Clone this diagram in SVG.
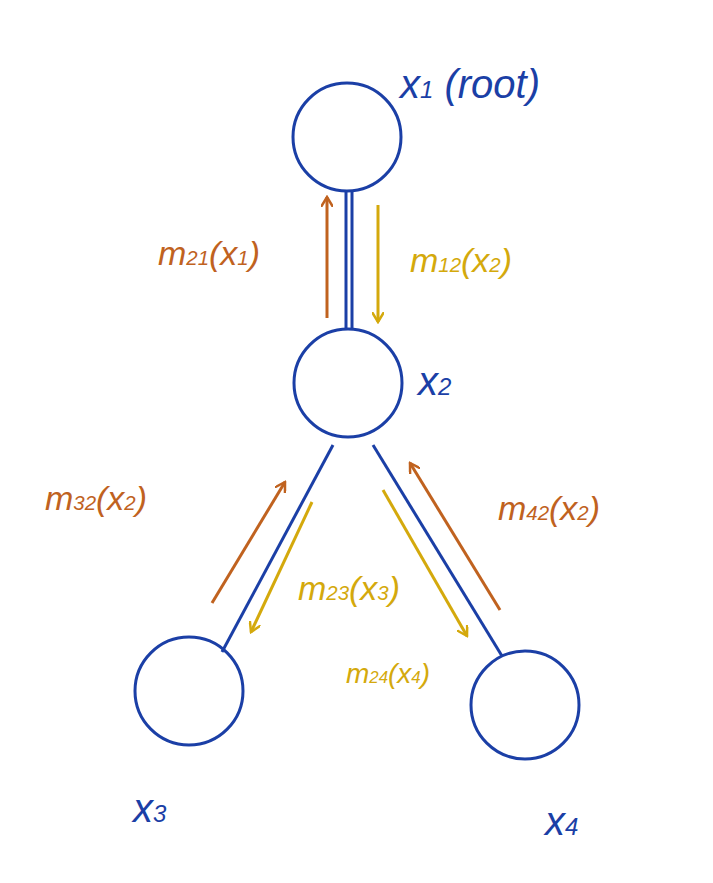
<svg xmlns="http://www.w3.org/2000/svg" width="713" height="883" viewBox="0 0 713 883">
<style>
.n{fill:none;stroke:#1b3fa6;stroke-width:3}
.e{stroke:#1b3fa6;stroke-width:3;fill:none}
.o{stroke:#c0621f;stroke-width:3;fill:none}
.y{stroke:#d4a90c;stroke-width:3;fill:none}
text{font-family:"Liberation Sans",sans-serif;font-style:italic}
.tb{fill:#1b3fa6;font-size:40px}
.to{fill:#c0621f;font-size:34px}
.ty{fill:#d4a90c;font-size:34px}
.s{font-size:0.6em}
</style>
<defs>
<marker id="ao" viewBox="0 0 12 12" refX="10" refY="6" markerWidth="12" markerHeight="12" markerUnits="userSpaceOnUse" orient="auto"><path d="M0,0 L10,6 L0,12" fill="none" stroke="#c0621f" stroke-width="2.5"/></marker>
<marker id="ay" viewBox="0 0 12 12" refX="10" refY="6" markerWidth="12" markerHeight="12" markerUnits="userSpaceOnUse" orient="auto"><path d="M0,0 L10,6 L0,12" fill="none" stroke="#d4a90c" stroke-width="2.5"/></marker>
</defs>
<g id="connectors">
<line class="e" x1="346" y1="191" x2="346" y2="330"/>
<line class="e" x1="352" y1="191" x2="352" y2="330"/>
<line class="e" x1="333" y1="445" x2="222" y2="652"/>
<line class="e" x1="373" y1="445" x2="502" y2="656"/>
<line class="o" x1="327" y1="318" x2="327" y2="197" marker-end="url(#ao)"/>
<line class="y" x1="378" y1="205" x2="378" y2="322" marker-end="url(#ay)"/>
<line class="o" x1="212" y1="603" x2="285" y2="482" marker-end="url(#ao)"/>
<line class="y" x1="312" y1="502" x2="251" y2="632" marker-end="url(#ay)"/>
<line class="y" x1="383" y1="490" x2="467" y2="636" marker-end="url(#ay)"/>
<line class="o" x1="500" y1="610" x2="410" y2="463" marker-end="url(#ao)"/>
</g>
<g id="x1"><circle class="n" cx="347" cy="137" r="54"/><text class="tb" x="400" y="98">x<tspan class="s">1</tspan> (root)</text></g>
<g id="x2"><circle class="n" cx="348" cy="383" r="54"/><text class="tb" x="418" y="395">x<tspan class="s">2</tspan></text></g>
<g id="x3"><circle class="n" cx="189" cy="691" r="54"/><text class="tb" x="133" y="822">x<tspan class="s">3</tspan></text></g>
<g id="x4"><circle class="n" cx="525" cy="705" r="54"/><text class="tb" x="545" y="835">x<tspan class="s">4</tspan></text></g>
<g id="labels">
<text class="to" x="158" y="265">m<tspan class="s">21</tspan>(x<tspan class="s">1</tspan>)</text>
<text class="ty" x="410" y="272">m<tspan class="s">12</tspan>(x<tspan class="s">2</tspan>)</text>
<text class="to" x="45" y="510">m<tspan class="s">32</tspan>(x<tspan class="s">2</tspan>)</text>
<text class="to" x="498" y="520">m<tspan class="s">42</tspan>(x<tspan class="s">2</tspan>)</text>
<text class="ty" x="298" y="600">m<tspan class="s">23</tspan>(x<tspan class="s">3</tspan>)</text>
<text class="ty" x="346" y="683" style="font-size:28px">m<tspan class="s">24</tspan>(x<tspan class="s">4</tspan>)</text>
</g>
</svg>
